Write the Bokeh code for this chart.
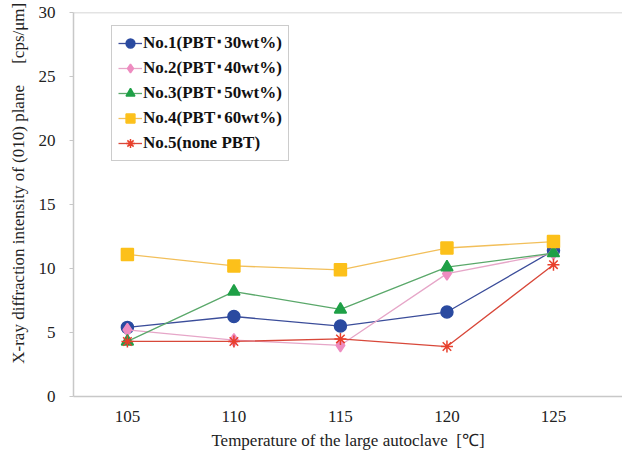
from bokeh.plotting import figure
from bokeh.models import Legend, LegendItem, Span, FixedTicker, Range1d
from bokeh.embed import file_html
from bokeh.resources import INLINE

# Autoclave temperature (°C)
temperature = [105, 110, 115, 120, 125]

# X-ray diffraction intensity of the (010) plane [cps/μm]
no1_pbt30 = [5.4, 6.25, 5.5, 6.6, 11.4]
no2_pbt40 = [5.2, 4.4, 4.0, 9.6, 11.2]
no3_pbt50 = [4.3, 8.2, 6.8, 10.1, 11.2]
no4_pbt60 = [11.1, 10.2, 9.9, 11.6, 12.1]
no5_none = [4.3, 4.3, 4.5, 3.9, 10.3]

series_labels = [
    "No.1(PBT\uff6530wt%)",
    "No.2(PBT\uff6540wt%)",
    "No.3(PBT\uff6550wt%)",
    "No.4(PBT\uff6560wt%)",
    "No.5(none PBT)",
]
y_ticks = [0, 5, 10, 15, 20, 25, 30]

FONT = "serif"

p = figure(
    width=622, height=455,
    output_backend="svg", toolbar_location=None,
    x_range=Range1d(102.47, 128.24), y_range=Range1d(0, 30),
    min_border_left=73, min_border_right=0,
    min_border_top=12, min_border_bottom=59,
)
p.outline_line_color = None
p.background_fill_color = "white"
p.grid.visible = False

# top border of the plotting area
p.add_layout(Span(location=30, dimension="width", line_color="#c8c8c8", line_width=1.5))

styles = [
    (no1_pbt30, "#3b4d9a", "#2a4aa0", "circle", 12),
    (no2_pbt40, "#e6a6c8", "#ee8cc0", "diamond", 13),
    (no3_pbt50, "#5aa86a", "#1fa047", "triangle", 12),
    (no4_pbt60, "#f2bf5a", "#fcc01a", "square", 12),
    (no5_none, "#d8483a", "#e8402c", "asterisk", 12),
]

items = []
for (vals, lcol, mcol, marker, size), label in zip(styles, series_labels):
    r_line = p.line(temperature, vals, line_color=lcol, line_width=1.3)
    r_pt = p.scatter(temperature, vals, marker=marker, size=size,
                     fill_color=mcol, line_color=mcol, line_width=1.5)
    items.append(LegendItem(label=label, renderers=[r_line, r_pt]))

legend = Legend(
    items=items, location=(38, 235),
    label_text_font=FONT, label_text_font_size="17px", label_text_font_style="bold",
    label_text_color="#111111",
    glyph_width=24, glyph_height=22, label_height=22, spacing=3, padding=6,
    label_standoff=1,
    border_line_color="#9a9a9a", border_line_width=1.2,
    background_fill_color="white", background_fill_alpha=1.0,
)
p.add_layout(legend)

# axes
p.xaxis.ticker = FixedTicker(ticks=temperature)
p.yaxis.ticker = FixedTicker(ticks=y_ticks)
for ax in (p.xaxis[0], p.yaxis[0]):
    ax.axis_line_color = "#c8c8c8"
    ax.axis_line_width = 1.5
    ax.major_label_text_font = FONT
    ax.major_label_text_font_size = "17px"
    ax.major_label_text_color = "#222222"
    ax.axis_label_text_font = FONT
    ax.axis_label_text_font_size = "17px"
    ax.axis_label_text_font_style = "normal"
    ax.axis_label_text_color = "#222222"
    ax.minor_tick_line_color = None

p.xaxis.major_tick_line_color = None
p.xaxis.major_label_standoff = 8
p.xaxis.axis_label = "Temperature of the large autoclave\u00a0\u00a0[\u2103]"
p.xaxis.axis_label_standoff = 6

p.yaxis.major_tick_line_color = "#c8c8c8"
p.yaxis.major_tick_out = 4
p.yaxis.major_tick_in = 0
p.yaxis.major_label_standoff = 14
# leading blank space nudges the centred label toward the top of the axis
p.yaxis.axis_label = "\u3000\u3000\u00a0\u00a0X-ray diffraction intensity of (010) plane\u3000\u00a0[cps/μm]"
p.yaxis.axis_label_standoff = 8

open("out.html", "w").write(file_html(p, INLINE))
